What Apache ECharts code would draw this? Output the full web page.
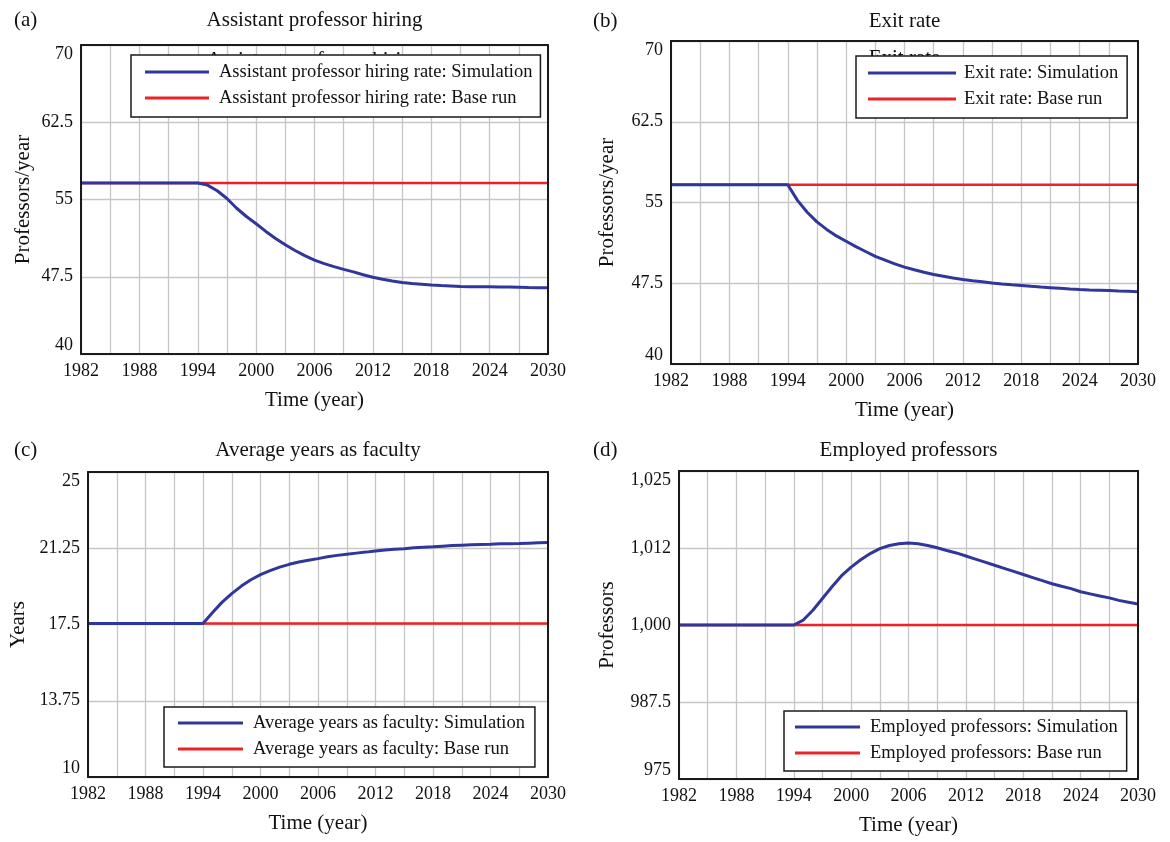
<!DOCTYPE html>
<html>
<head>
<meta charset="utf-8">
<script src="https://cdn.jsdelivr.net/npm/echarts@6/dist/echarts.min.js"></script>
<style>html,body{margin:0;padding:0;background:#fff;}#chart{width:1170px;height:842px;}</style>
</head>
<body>
<div id="chart"></div>
<script>
const years = [1982,1983,1984,1985,1986,1987,1988,1989,1990,1991,1992,1993,
  1994,1995,1996,1997,1998,1999,2000,2001,2002,2003,2004,2005,2006,2007,2008,2009,2010,2011,
  2012,2013,2014,2015,2016,2017,2018,2019,2020,2021,2022,2023,2024,2025,2026,2027,2028,2029,2030];
const xTickLabels = ['1982','1988','1994','2000','2006','2012','2018','2024','2030'];

const hiringSim = [56.6,56.6,56.6,56.6,56.6,56.6,56.6,56.6,56.6,56.6,56.6,56.6,
  56.6,56.4,55.85,55.1,54.15,53.35,52.65,51.9,51.22,50.6,
  50.05,49.55,49.12,48.77,48.48,48.22,47.97,47.7,47.45,47.25,
  47.08,46.94,46.84,46.77,46.7,46.64,46.6,46.56,46.54,46.53,
  46.52,46.51,46.5,46.49,46.45,46.44,46.43];
const hiringBase = [56.6,56.6,56.6,56.6,56.6,56.6,56.6,56.6,56.6,56.6,56.6,56.6,
  56.6,56.6,56.6,56.6,56.6,56.6,56.6,56.6,56.6,56.6,56.6,56.6,56.6,56.6,56.6,56.6,56.6,56.6,
  56.6,56.6,56.6,56.6,56.6,56.6,56.6,56.6,56.6,56.6,56.6,56.6,56.6,56.6,56.6,56.6,56.6,56.6,56.6];

const exitSim = [56.65,56.65,56.65,56.65,56.65,56.65,56.65,56.65,56.65,56.65,56.65,56.65,
  56.65,55.2,54.1,53.2,52.5,51.9,51.4,50.9,50.45,50.0,
  49.65,49.3,49.0,48.75,48.52,48.32,48.15,47.98,47.85,47.73,
  47.63,47.52,47.43,47.36,47.3,47.22,47.15,47.09,47.03,46.97,
  46.92,46.88,46.85,46.82,46.78,46.75,46.7];
const exitBase = [56.65,56.65,56.65,56.65,56.65,56.65,56.65,56.65,56.65,56.65,56.65,56.65,
  56.65,56.65,56.65,56.65,56.65,56.65,56.65,56.65,56.65,56.65,56.65,56.65,56.65,56.65,56.65,56.65,56.65,56.65,
  56.65,56.65,56.65,56.65,56.65,56.65,56.65,56.65,56.65,56.65,56.65,56.65,56.65,56.65,56.65,56.65,56.65,56.65,56.65];

const facultySim = [17.55,17.55,17.55,17.55,17.55,17.55,17.55,17.55,17.55,17.55,17.55,17.55,
  17.55,18.09,18.6,19.02,19.39,19.7,19.95,20.15,20.32,20.46,
  20.57,20.66,20.74,20.83,20.9,20.96,21.01,21.06,21.12,21.16,
  21.2,21.23,21.27,21.3,21.32,21.35,21.38,21.4,21.42,21.44,
  21.45,21.47,21.47,21.48,21.5,21.52,21.53];
const facultyBase = [17.55,17.55,17.55,17.55,17.55,17.55,17.55,17.55,17.55,17.55,17.55,17.55,
  17.55,17.55,17.55,17.55,17.55,17.55,17.55,17.55,17.55,17.55,17.55,17.55,17.55,17.55,17.55,17.55,17.55,17.55,
  17.55,17.55,17.55,17.55,17.55,17.55,17.55,17.55,17.55,17.55,17.55,17.55,17.55,17.55,17.55,17.55,17.55,17.55,17.55];

const employedSim = [1000,1000,1000,1000,1000,1000,1000,1000,1000,1000,1000,1000,
  1000,1000.8,1002.4,1004.3,1006.2,1008.0,1009.4,1010.6,1011.6,1012.4,
  1012.9,1013.2,1013.3,1013.2,1012.9,1012.55,1012.1,1011.7,1011.2,1010.7,
  1010.2,1009.7,1009.2,1008.7,1008.2,1007.7,1007.2,1006.7,1006.3,1005.9,
  1005.4,1005.05,1004.7,1004.4,1004.0,1003.7,1003.4];
const employedBase = [1000,1000,1000,1000,1000,1000,1000,1000,1000,1000,1000,1000,
  1000,1000,1000,1000,1000,1000,1000,1000,1000,1000,1000,1000,1000,1000,1000,1000,1000,1000,
  1000,1000,1000,1000,1000,1000,1000,1000,1000,1000,1000,1000,1000,1000,1000,1000,1000,1000,1000];

const yTicksAB = ['40','47.5','55','62.5','70'];
const yTicksC = ['10','13.75','17.5','21.25','25'];
const yTicksD = ['975','987.5','1,000','1,012','1,025'];

const FONT = '"Liberation Serif","Times New Roman",serif';
const BLUE = '#30369a';
const RED = '#ec2329';
const GRIDC = '#c6c6c6';
const INK = '#111';

const grids = [], xAxes = [], yAxes = [], series = [], legends = [], graphics = [];

function addPanel(p) {
  const gi = grids.length;
  grids.push({left: p.box[0], top: p.box[1], width: p.box[2], height: p.box[3]});
  const xi = xAxes.length, yi = yAxes.length;
  xAxes.push({
    type: 'value', gridIndex: gi, min: 1982, max: 2030, interval: 3, position: 'bottom', z: 0,
    axisLine: {show: false}, axisTick: {show: false},
    axisLabel: {margin: 8, fontFamily: FONT, fontSize: 18, color: INK,
      formatter: v => { const k = (v - 1982) / 6; return Number.isInteger(k) ? xTickLabels[k] : ''; }},
    splitLine: {show: true, lineStyle: {color: GRIDC, width: 1.3}},
    name: 'Time (year)', nameLocation: 'middle', nameGap: 36,
    nameTextStyle: {fontFamily: FONT, fontSize: 21, color: INK}
  });
  ['bottom', 'top'].forEach(pos => xAxes.push({
    type: 'value', gridIndex: gi, min: 1982, max: 2030, position: pos, z: 5,
    axisLine: {show: true, onZero: false, lineStyle: {color: '#1a1a1a', width: 2}},
    axisTick: {show: false}, axisLabel: {show: false}, splitLine: {show: false}
  }));
  yAxes.push({
    type: 'value', gridIndex: gi, min: p.min, max: p.max, interval: p.interval, position: 'left', z: 0,
    axisLine: {show: false}, axisTick: {show: false},
    axisLabel: {margin: 8, fontFamily: FONT, fontSize: 18, color: INK,
      verticalAlignMinLabel: 'bottom', verticalAlignMaxLabel: 'top',
      formatter: v => p.ticks[Math.round((v - p.min) / p.interval)]},
    splitLine: {show: true, lineStyle: {color: GRIDC, width: 1.3}},
    name: p.yName, nameLocation: 'middle', nameGap: p.nameGap,
    nameTextStyle: {fontFamily: FONT, fontSize: 21, color: INK}
  });
  ['left', 'right'].forEach(pos => yAxes.push({
    type: 'value', gridIndex: gi, min: p.min, max: p.max, position: pos, z: 5,
    axisLine: {show: true, onZero: false, lineStyle: {color: '#1a1a1a', width: 2}},
    axisTick: {show: false}, axisLabel: {show: false}, splitLine: {show: false}
  }));
  series.push({
    type: 'line', name: p.label + ': Base run', xAxisIndex: xi, yAxisIndex: yi,
    data: years.map((y, i) => [y, p.base[i]]), symbol: 'none', z: 3,
    lineStyle: {color: RED, width: 2.5}, itemStyle: {color: RED}
  });
  series.push({
    type: 'line', name: p.label + ': Simulation', xAxisIndex: xi, yAxisIndex: yi,
    data: years.map((y, i) => [y, p.sim[i]]), symbol: 'none', z: 4,
    lineStyle: {color: BLUE, width: 3}, itemStyle: {color: BLUE}
  });
  legends.push({
    left: p.legend[0], top: p.legend[1], orient: 'vertical', z: 20,
    data: [p.label + ': Simulation', p.label + ': Base run'],
    icon: 'rect', itemWidth: p.iconW, itemHeight: 3, itemGap: 6, padding: p.legendPad,
    backgroundColor: '#fff', borderColor: '#1a1a1a', borderWidth: 1.5,
    selectedMode: false,
    textStyle: {fontFamily: FONT, fontSize: 18.5, color: INK, lineHeight: 20, padding: [0, 0, 0, p.textGap]}
  });
  const cx = p.box[0] + p.box[2] / 2;
  graphics.push({type: 'text', x: p.tag[0], y: p.tag[1], z: 30,
    style: {text: p.tagText, fontFamily: FONT, fontSize: 21, fill: INK, align: 'left', verticalAlign: 'middle'}});
  graphics.push({type: 'text', x: cx, y: p.tag[1], z: 30,
    style: {text: p.title, fontFamily: FONT, fontSize: 21, fill: INK, align: 'center', verticalAlign: 'middle'}});
  if (p.ghostY) {
    graphics.push({type: 'text', x: cx, y: p.ghostY, z: 10,
      style: {text: p.title, fontFamily: FONT, fontSize: 21, fill: INK, align: 'center', verticalAlign: 'middle'}});
  }
}

addPanel({box: [81, 45, 467, 309], min: 40, max: 70, interval: 7.5, ticks: yTicksAB,
  yName: 'Professors/year', nameGap: 47, label: 'Assistant professor hiring rate',
  sim: hiringSim, base: hiringBase, legend: [131, 55], legendPad: [7, 8, 9, 14], iconW: 64, textGap: 5,
  tag: [14, 20], tagText: '(a)', title: 'Assistant professor hiring', ghostY: 60});
addPanel({box: [671, 41, 467, 323], min: 40, max: 70, interval: 7.5, ticks: yTicksAB,
  yName: 'Professors/year', nameGap: 53, label: 'Exit rate',
  sim: exitSim, base: exitBase, legend: [856, 56], legendPad: [7, 9, 9, 12], iconW: 88, textGap: 3,
  tag: [593, 21], tagText: '(b)', title: 'Exit rate', ghostY: 58});
addPanel({box: [88, 472, 460, 305], min: 10, max: 25, interval: 3.75, ticks: yTicksC,
  yName: 'Years', nameGap: 59, label: 'Average years as faculty',
  sim: facultySim, base: facultyBase, legend: [164, 707], legendPad: [6, 10, 8, 14], iconW: 65, textGap: 5,
  tag: [14, 450], tagText: '(c)', title: 'Average years as faculty'});
addPanel({box: [679, 471, 459, 308], min: 975, max: 1025, interval: 12.5, ticks: yTicksD,
  yName: 'Professors', nameGap: 61, label: 'Employed professors',
  sim: employedSim, base: employedBase, legend: [784, 711], legendPad: [6, 9, 8, 11], iconW: 65, textGap: 5,
  tag: [593, 450], tagText: '(d)', title: 'Employed professors'});

const chart = echarts.init(document.getElementById('chart'), null, {renderer: 'canvas'});
chart.setOption({
  backgroundColor: '#fff',
  animation: false,
  grid: grids,
  xAxis: xAxes,
  yAxis: yAxes,
  legend: legends,
  series: series,
  graphic: graphics
});
</script>
</body>
</html>
